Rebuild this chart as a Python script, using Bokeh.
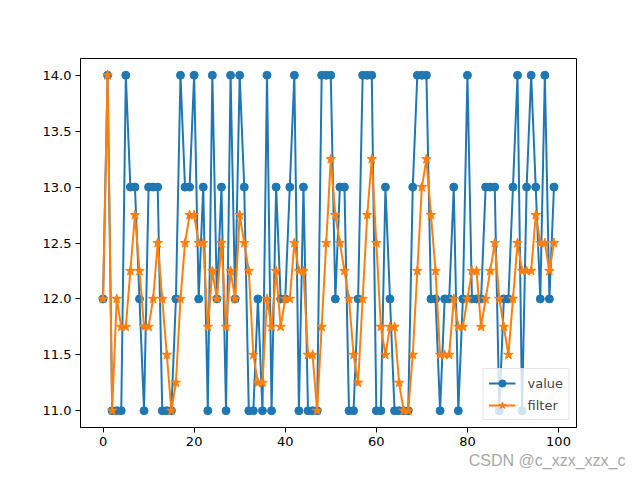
from bokeh.plotting import figure
from bokeh.models import Range1d, FixedTicker, PrintfTickFormatter, Title
from bokeh.embed import file_html
from bokeh.resources import INLINE

# ---- data ----
idx = list(range(100))
value = [12, 14, 11, 11, 11, 14, 13, 13, 12, 11,
         13, 13, 13, 11, 11, 11, 12, 14, 13, 13,
         14, 12, 13, 11, 14, 12, 13, 11, 14, 12,
         14, 13, 11, 11, 12, 11, 14, 11, 13, 12,
         12, 13, 14, 11, 13, 11, 11, 11, 14, 14,
         14, 12, 13, 13, 11, 11, 12, 14, 14, 14,
         11, 11, 13, 12, 11, 11, 11, 11, 13, 14,
         14, 14, 12, 12, 11, 12, 12, 13, 11, 12,
         14, 12, 12, 12, 13, 13, 13, 11, 12, 12,
         13, 14, 11, 13, 14, 13, 12, 14, 12, 13]
filt = [12, 14, 11, 12, 11.75, 11.75, 12.25, 12.75, 12.25, 11.75,
        11.75, 12, 12.5, 12, 11.5, 11, 11.25, 12, 12.5, 12.75,
        12.75, 12.5, 12.5, 11.75, 12.25, 12, 12.5, 11.75, 12.25, 12,
        12.75, 12.5, 12.25, 11.5, 11.25, 11.25, 12, 11.75, 12.25, 11.75,
        12, 12, 12.5, 12.25, 12.25, 11.5, 11.5, 11, 11.75, 12.5,
        13.25, 12.75, 12.5, 12.25, 12, 11.5, 11.25, 12, 12.75, 13.25,
        12.5, 11.75, 11.5, 11.75, 11.75, 11.25, 11, 11, 11.5, 12.25,
        13, 13.25, 12.75, 12.25, 11.5, 11.5, 11.5, 12, 11.75, 11.75,
        12, 12.25, 12.25, 11.75, 12, 12.25, 12.5, 12, 11.75, 11.5,
        12, 12.5, 12.25, 12.25, 12.25, 12.75, 12.5, 12.5, 12.25, 12.5]
x_ticks = [0, 20, 40, 60, 80, 100]
y_ticks = [11.0, 11.5, 12.0, 12.5, 13.0, 13.5, 14.0]
series_names = ["value", "filter"]
colors = ["#1f77b4", "#ff7f0e"]
watermark = "CSDN @c_xzx_xzx_c"

FONT = "DejaVu Sans"

p = figure(frame_width=496, frame_height=369, output_backend="svg", toolbar_location=None,
           x_range=Range1d(-4.95, 103.95), y_range=Range1d(10.85, 14.15),
           min_border_left=80, min_border_right=56, min_border_top=58, min_border_bottom=50)
p.background_fill_color = "white"
p.border_fill_color = "white"
p.outline_line_color = "black"
p.outline_line_width = 1
p.grid.visible = False

for ax in (p.xaxis[0], p.yaxis[0]):
    ax.axis_line_color = "black"
    ax.major_tick_out = 5
    ax.major_tick_in = 0
    ax.minor_tick_out = 0
    ax.minor_tick_in = 0
    ax.major_label_text_font = FONT
    ax.major_label_text_font_size = "13px"
    ax.major_label_text_color = "black"
    ax.major_label_standoff = 4

p.xaxis[0].ticker = FixedTicker(ticks=x_ticks)
p.yaxis[0].ticker = FixedTicker(ticks=y_ticks)
p.yaxis[0].formatter = PrintfTickFormatter(format="%.1f")

p.line(idx, value, line_color=colors[0], line_width=2, legend_label=series_names[0])
p.scatter(idx, value, marker="circle", size=8, fill_color=colors[0], line_color=colors[0],
          legend_label=series_names[0])
p.line(idx, filt, line_color=colors[1], line_width=2, legend_label=series_names[1])
p.scatter(idx, filt, marker="star", size=10, fill_color=colors[1], line_color=colors[1],
          legend_label=series_names[1])

lg = p.legend[0]
lg.location = "bottom_right"
lg.margin = 7
lg.padding = 5
lg.spacing = 4
lg.label_height = 18
lg.glyph_height = 18
lg.glyph_width = 27
lg.label_standoff = 12
lg.label_text_font = FONT
lg.label_text_font_size = "13px"
lg.border_line_color = "#cccccc"
lg.border_line_width = 1
lg.background_fill_alpha = 0.8

p.add_layout(Title(text=watermark, align="right", offset=-49, text_font="Liberation Sans",
                   text_font_size="16px", text_font_style="normal", text_color="#a8a8a8",
                   standoff=2), "below")

open("out.html", "w").write(file_html(p, INLINE))
